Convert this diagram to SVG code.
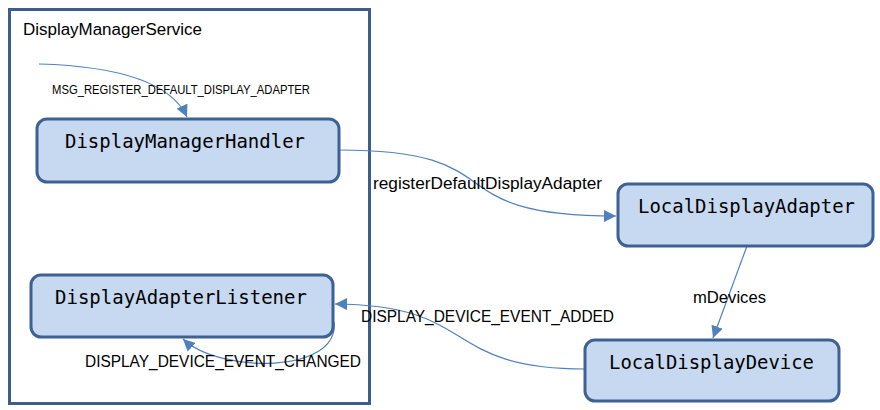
<svg xmlns="http://www.w3.org/2000/svg" width="880" height="410" viewBox="0 0 880 410">
<defs>
<style>
.node rect{fill:#c6d9f1;stroke:#3e6193;stroke-width:3}
.node text{font-family:"DejaVu Sans Mono","Liberation Mono",monospace;font-size:19px;fill:#000}
.lbl{font-family:"Liberation Sans",Arial,sans-serif;font-size:16px;fill:#000}
.conn path{fill:none;stroke:#4f81bd;stroke-width:1.2}
</style>
<marker id="ah" markerUnits="userSpaceOnUse" markerWidth="14" markerHeight="12" refX="12" refY="6" orient="auto">
<path d="M0,0 L12,6 L0,12 Z" fill="#4f81bd"/>
</marker>
</defs>
<rect width="880" height="410" fill="#fff"/>
<g id="DisplayManagerService">
<rect x="9.5" y="9.5" width="360" height="394" fill="none" stroke="#3d5d8a" stroke-width="3"/>
<text class="lbl" x="23" y="35" textLength="179" lengthAdjust="spacingAndGlyphs">DisplayManagerService</text>
</g>
<g class="conn" id="connectors">
<path d="M39,64 C110,66 170,80 187,117" marker-end="url(#ah)"/>
<path d="M339,150 C520,150 430,216 616,216" marker-end="url(#ah)"/>
<path d="M747,246 L713,338" marker-end="url(#ah)"/>
<path d="M585,369 C440,369 480,305 335,304" marker-end="url(#ah)"/>
<path d="M334,322 C340,374 220,374 183,339" marker-end="url(#ah)"/>
<text class="lbl" x="52" y="94" style="font-size:12px" textLength="258" lengthAdjust="spacingAndGlyphs">MSG_REGISTER_DEFAULT_DISPLAY_ADAPTER</text>
<text class="lbl" x="373" y="189" textLength="229" lengthAdjust="spacingAndGlyphs">registerDefaultDisplayAdapter</text>
<text class="lbl" x="693" y="303" textLength="73" lengthAdjust="spacingAndGlyphs">mDevices</text>
<text class="lbl" x="361" y="322" textLength="253" lengthAdjust="spacingAndGlyphs">DISPLAY_DEVICE_EVENT_ADDED</text>
<text class="lbl" x="85" y="367" textLength="276" lengthAdjust="spacingAndGlyphs">DISPLAY_DEVICE_EVENT_CHANGED</text>
</g>
<g class="node" id="DisplayManagerHandler">
<rect x="37" y="119" width="302" height="63" rx="10"/>
<text x="65" y="148" textLength="240" lengthAdjust="spacingAndGlyphs">DisplayManagerHandler</text>
</g>
<g class="node" id="LocalDisplayAdapter">
<rect x="618" y="184" width="255" height="62" rx="10"/>
<text x="638" y="213" textLength="217" lengthAdjust="spacingAndGlyphs">LocalDisplayAdapter</text>
</g>
<g class="node" id="DisplayAdapterListener">
<rect x="31" y="275" width="302" height="62" rx="10"/>
<text x="55" y="304" textLength="252" lengthAdjust="spacingAndGlyphs">DisplayAdapterListener</text>
</g>
<g class="node" id="LocalDisplayDevice">
<rect x="585" y="340" width="254" height="61" rx="10"/>
<text x="609" y="369" textLength="205" lengthAdjust="spacingAndGlyphs">LocalDisplayDevice</text>
</g>
</svg>
